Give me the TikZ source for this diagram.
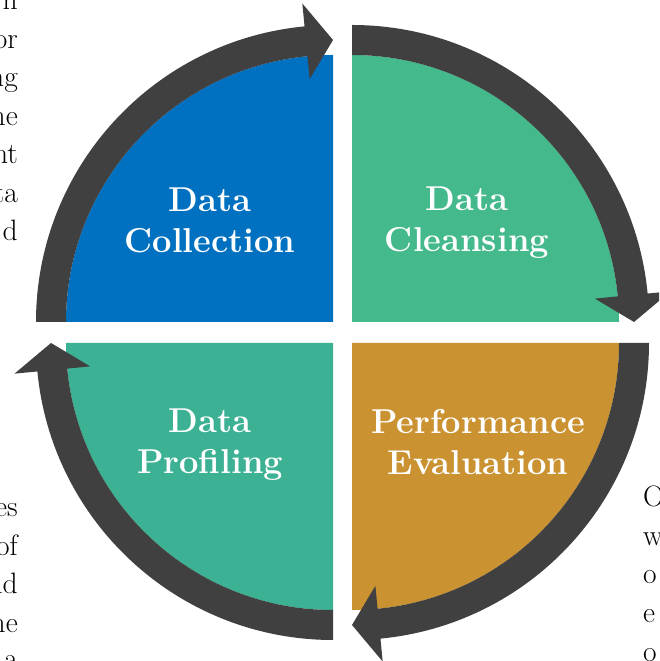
\documentclass[tikz,border=0pt]{standalone}
\usepackage{fontspec}
\definecolor{collblue}{HTML}{0070C0}
\definecolor{cleangreen}{HTML}{43B98C}
\definecolor{profgreen}{HTML}{3CB193}
\definecolor{evalgold}{HTML}{CA9231}
\definecolor{ringgray}{HTML}{404040}
\begin{document}
\begin{tikzpicture}[x=1pt, y=1pt,
    ring/.style={fill=ringgray},
    stage/.style={text=white, align=center, inner sep=0pt,
        font=\fontsize{34.5}{41}\selectfont\bfseries},
    side/.style={inner sep=0pt, font=\fontsize{29.5}{38.5}\selectfont}]
    \clip (0,0) rectangle (659,661);

    % Cuartos de circulo
    \fill[collblue] (333,339) -- ++(180:267pt) arc[start angle=180, end angle=90, radius=267pt] -- cycle;
    \fill[cleangreen] (352,339) -- ++(90:267pt) arc[start angle=90, end angle=0, radius=267pt] -- cycle;
    \fill[evalgold] (352,318) -- ++(0:267pt) arc[start angle=0, end angle=-90, radius=267pt] -- cycle;
    \fill[profgreen] (333,318) -- ++(-90:267pt) arc[start angle=-90, end angle=-180, radius=267pt] -- cycle;

    % Flechas circulares
    \begin{scope}[shift={(333,339)}]
        \fill[ring] (180:297pt) arc[start angle=180, end angle=95.5, radius=297pt] -- (95.5:320pt) -- (90:282pt)
            -- (95.5:244pt) -- (95.5:267pt) arc[start angle=95.5, end angle=180, radius=267pt] -- cycle;
    \end{scope}
    \begin{scope}[shift={(352,339)}]
        \fill[ring] (90:297pt) arc[start angle=90, end angle=5.5, radius=297pt] -- (5.5:320pt) -- (0:282pt)
            -- (5.5:244pt) -- (5.5:267pt) arc[start angle=5.5, end angle=90, radius=267pt] -- cycle;
    \end{scope}
    \begin{scope}[shift={(352,318)}]
        \fill[ring] (0:297pt) arc[start angle=0, end angle=-84.5, radius=297pt] -- (-84.5:320pt) -- (-90:282pt)
            -- (-84.5:244pt) -- (-84.5:267pt) arc[start angle=-84.5, end angle=0, radius=267pt] -- cycle;
    \end{scope}
    \begin{scope}[shift={(333,318)}]
        \fill[ring] (-90:297pt) arc[start angle=-90, end angle=-174.5, radius=297pt] -- (-174.5:320pt) -- (-180:282pt)
            -- (-174.5:244pt) -- (-174.5:267pt) arc[start angle=-174.5, end angle=-90, radius=267pt] -- cycle;
    \end{scope}

    % Etapas
    \node[stage] (collection) at (210,441) {Data\\Collection};
    \node[stage] (cleansing) at (467,438) {Data\\Cleansing};
    \node[stage] (profiling) at (210,216) {Data\\Profiling};
    \node[stage] (evaluation) at (478,219) {Performance\\Evaluation};

    % Texto lateral (recortado)
    \node[side, anchor=base east] (lt1) at (18,651) {n};
    \node[side, anchor=base east] (lt2) at (18,612.5) {or};
    \node[side, anchor=base east] (lt3) at (18,574) {ng};
    \node[side, anchor=base east] (lt4) at (18,535.5) {ne};
    \node[side, anchor=base east] (lt5) at (18,497) {nt};
    \node[side, anchor=base east] (lt6) at (18,458.5) {ta};
    \node[side, anchor=base east] (lt7) at (18,420) {d};

    \node[side, anchor=base east] (lb1) at (18,144) {es};
    \node[side, anchor=base east] (lb2) at (18,105.5) {of};
    \node[side, anchor=base east] (lb3) at (18,67) {nd};
    \node[side, anchor=base east] (lb4) at (18,28.5) {ne};
    \node[side, anchor=base east] (lb5) at (18,-7) {a};

    \node[side, anchor=base west] (rb1) at (643,154) {O};
    \node[side, anchor=base west] (rb2) at (643,115.5) {w};
    \node[side, anchor=base west] (rb3) at (643,77) {o};
    \node[side, anchor=base west] (rb4) at (643,38.5) {e};
    \node[side, anchor=base west] (rb5) at (643,0) {o};
\end{tikzpicture}
\end{document}
